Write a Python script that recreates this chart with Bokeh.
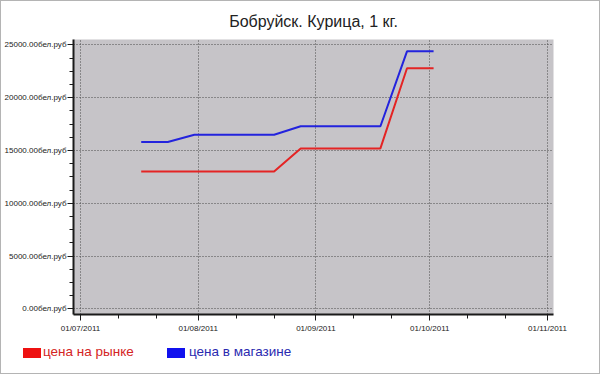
import pandas as pd
from bokeh.plotting import figure
from bokeh.layouts import column
from bokeh.models import (Range1d, FixedTicker, SingleIntervalTicker, DatetimeTickFormatter,
                          PrintfTickFormatter, ColumnDataSource, Div)
from bokeh.embed import file_html
from bokeh.resources import INLINE

# ---- data ----
dates = ["2011-07-17", "2011-07-24", "2011-07-31", "2011-08-07", "2011-08-14", "2011-08-21",
         "2011-08-28", "2011-09-04", "2011-09-11", "2011-09-18", "2011-09-25", "2011-10-02"]
market_price = [13000, 13000, 13000, 13000, 13000, 13000, 15200, 15200, 15200, 15200, 22800, 22800]
store_price = [15800, 15800, 16500, 16500, 16500, 16500, 17300, 17300, 17300, 17300, 24400, 24400]
month_ticks = ["2011-07-01", "2011-08-01", "2011-09-01", "2011-10-01", "2011-11-01"]
minor_dates = ["2011-07-11", "2011-07-21", "2011-08-11", "2011-08-21", "2011-09-11",
               "2011-09-21", "2011-10-11", "2011-10-21"]
series_labels = ["цена на рынке", "цена в магазине"]
series_colors = ["#e42424", "#2323dd"]
legend_box_colors = ["#ee1111", "#1111ee"]
legend_text_colors = ["#d42424", "#2a2ab0"]
title_text = "Бобруйск. Курица, 1 кг."


def ms(s):
    return pd.Timestamp(s).value / 1e6


src = ColumnDataSource(dict(x=pd.to_datetime(dates), market=market_price, store=store_price))

p = figure(width=598, height=336, x_axis_type="datetime", output_backend="svg",
           toolbar_location=None,
           x_range=Range1d(ms("2011-06-29 04:00"), ms("2011-11-02 14:00")),
           y_range=Range1d(-540, 25520),
           min_border_left=10, min_border_right=46, min_border_top=0, min_border_bottom=23,
           background_fill_color="#c6c4c8", border_fill_color="white",
           outline_line_color=None)

p.title.text = title_text
p.title.align = "center"
p.title.text_font = "Liberation Sans"
p.title.text_font_size = "16px"
p.title.text_font_style = "normal"
p.title.text_color = "#222222"
p.title.padding = 6
p.title.standoff = 7

# axes
p.xaxis.ticker = FixedTicker(ticks=[ms(d) for d in month_ticks],
                             minor_ticks=[ms(d) for d in minor_dates])
fmt = "%d/%m/%Y"
p.xaxis.formatter = DatetimeTickFormatter(milliseconds=fmt, seconds=fmt, minsec=fmt, minutes=fmt,
                                          hourmin=fmt, hours=fmt, days=fmt, months=fmt, years=fmt)
p.yaxis.ticker = SingleIntervalTicker(interval=5000, num_minor_ticks=4)
p.yaxis.formatter = PrintfTickFormatter(format="%.2fбел.руб")

for ax in (p.xaxis[0], p.yaxis[0]):
    ax.axis_line_color = "#1a1a1a"
    ax.axis_line_width = 2
    ax.major_tick_line_color = "#1a1a1a"
    ax.minor_tick_line_color = "#1a1a1a"
    ax.major_tick_line_width = 1
    ax.major_tick_out = 6
    ax.major_tick_in = 0
    ax.minor_tick_out = 4
    ax.minor_tick_in = 0
    ax.major_label_text_font = "Liberation Sans"
    ax.major_label_text_font_size = "8px"
    ax.major_label_text_color = "#222222"
p.xaxis.major_label_standoff = 3
p.yaxis.major_label_standoff = 1

# grid
for g in (p.xgrid[0], p.ygrid[0]):
    g.grid_line_color = "#4a4a4a"
    g.grid_line_dash = "1 2"
    g.grid_line_width = 1
p.xgrid.ticker = p.xaxis[0].ticker
p.ygrid.ticker = p.yaxis[0].ticker

# series lines
p.line("x", "market", source=src, line_color=series_colors[0], line_width=2)
p.line("x", "store", source=src, line_color=series_colors[1], line_width=2)

# ---- legend strip ----
box_left = [22, 166]
text_left = [42, 188]
parts = []
for lbl, bc, tc, bl, tl in zip(series_labels, legend_box_colors, legend_text_colors,
                               box_left, text_left):
    parts.append(f'<span style="position:absolute;left:{bl}px;top:11px;width:18px;height:10px;'
                 f'background:{bc}"></span>')
    parts.append(f'<span style="position:absolute;left:{tl}px;top:8px;line-height:14px;'
                 f'white-space:nowrap;color:{tc}">{lbl}</span>')
legend_html = ('<div style="position:relative;width:598px;height:36px;'
               'font-family:\'Liberation Sans\',Arial,sans-serif;font-size:13.5px">'
               + "".join(parts) + "</div>")
leg = Div(text=legend_html, width=598, height=36, margin=0)

layout = column(p, leg, spacing=0)
layout.styles = {"border": "1px solid #b4b4b4"}

open("out.html", "w").write(file_html(layout, INLINE))
